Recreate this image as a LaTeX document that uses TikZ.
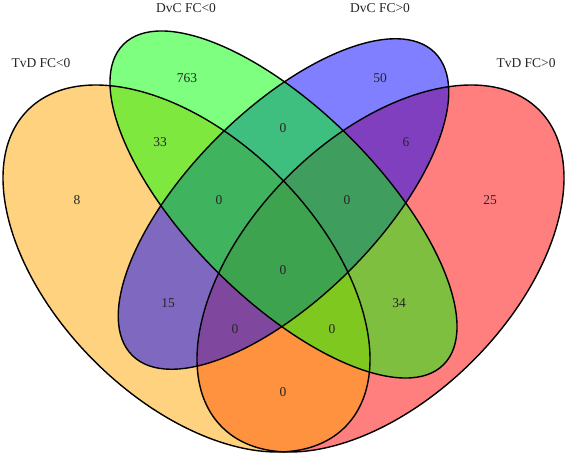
\documentclass[tikz,border=0pt]{standalone}
\usepackage{fontspec}
\setmainfont{Liberation Serif}
\definecolor{cRed}{RGB}{255,0,0}
\definecolor{cOrange}{RGB}{255,165,0}
\definecolor{cBlue}{RGB}{0,0,255}
\definecolor{cGreen}{RGB}{0,255,0}
\tikzset{
  setfill/.style={fill=#1, fill opacity=0.5, draw=none},
  setline/.style={draw=black, line width=1.4pt},
  lbl/.style={font=\fontsize{13.5}{16}\selectfont, text=black!85, inner sep=0pt},
}
\begin{document}
\begin{tikzpicture}[x=1pt,y=1pt]
\useasboundingbox (0,0) rectangle (567,455);
% fills (order: red, orange, blue, green)
\fill[setfill=cRed, rotate around={45:(380.5,186.5)}] (380.5,186.5) ellipse [x radius=224.2, y radius=130.6];
\fill[setfill=cOrange, rotate around={-45:(186.5,186.5)}] (186.5,186.5) ellipse [x radius=224.2, y radius=130.6];
\fill[setfill=cBlue, rotate around={45:(283.5,251)}] (283.5,251) ellipse [x radius=214, y radius=93.8];
\fill[setfill=cGreen, rotate around={-45:(283.5,250.5)}] (283.5,250.5) ellipse [x radius=226.4, y radius=94.5];
% outlines
\draw[setline, rotate around={45:(380.5,186.5)}] (380.5,186.5) ellipse [x radius=224.2, y radius=130.6];
\draw[setline, rotate around={-45:(186.5,186.5)}] (186.5,186.5) ellipse [x radius=224.2, y radius=130.6];
\draw[setline, rotate around={45:(283.5,251)}] (283.5,251) ellipse [x radius=214, y radius=93.8];
\draw[setline, rotate around={-45:(283.5,250.5)}] (283.5,250.5) ellipse [x radius=226.4, y radius=94.5];
% set titles
\node[lbl] (t1) at (41,392) {TvD FC<0};
\node[lbl] (t2) at (186,447) {DvC FC<0};
\node[lbl] (t3) at (380,447) {DvC FC>0};
\node[lbl] (t4) at (526,392) {TvD FC>0};
% counts
\node[lbl] (n1) at (77,255) {8};
\node[lbl] (n2) at (187,377) {763};
\node[lbl] (n3) at (160,313) {33};
\node[lbl] (n4) at (283,327) {0};
\node[lbl] (n5) at (219,255) {0};
\node[lbl] (n6) at (380,377) {50};
\node[lbl] (n7) at (406,313) {6};
\node[lbl] (n8) at (490,255) {25};
\node[lbl] (n9) at (347,255) {0};
\node[lbl] (n10) at (283,185) {0};
\node[lbl] (n11) at (168,152) {15};
\node[lbl] (n12) at (235,126) {0};
\node[lbl] (n13) at (283,63) {0};
\node[lbl] (n14) at (399,152) {34};
\node[lbl] (n15) at (332,126) {0};
\end{tikzpicture}
\end{document}
